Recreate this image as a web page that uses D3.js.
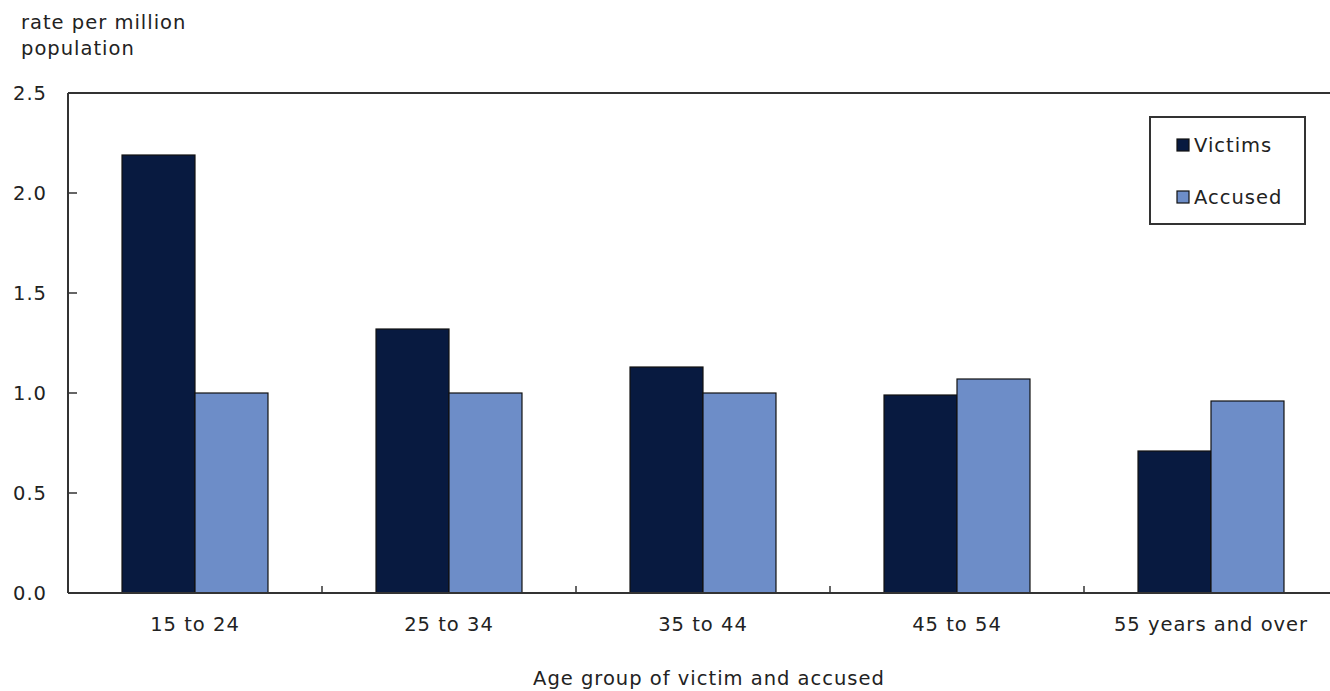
<!DOCTYPE html>
<html><head><meta charset="utf-8">
<script src="https://cdn.jsdelivr.net/npm/d3@7"></script>
<style>
body{margin:0;background:#fff;}
text{font-family:"DejaVu Sans",Verdana,sans-serif;fill:#222;letter-spacing:1px;}
</style></head>
<body><svg id="c" width="1330" height="691"></svg>
<script>
const categories = ["15 to 24","25 to 34","35 to 44","45 to 54","55 years and over"];
const seriesNames = ["Victims","Accused"];
const victims = [2.19,1.32,1.13,0.99,0.71];
const accused = [1.00,1.00,1.00,1.07,0.96];
const yTicks = [0,0.5,1.0,1.5,2.0,2.5];
const colors = ["#081a40","#6d8dc8"];

const svg = d3.select("#c");
const L=68, R=1338, T=93, B=593;
const x0 = d3.scaleBand().domain(categories).range([L,R]).padding(0);
const x1 = d3.scaleBand().domain(seriesNames).range([0,x0.bandwidth()]).paddingInner(0).paddingOuter(0.74);
const y = d3.scaleLinear().domain([0,2.5]).range([B,T]);
const fs = 19.5;

// bars
const data = categories.map((c,i)=>({c, vals:[victims[i],accused[i]]}));
const g = svg.append("g");
data.forEach(d=>{
  d.vals.forEach((v,j)=>{
    g.append("rect")
      .attr("x", x0(d.c)+x1(seriesNames[j]))
      .attr("y", y(v))
      .attr("width", x1.bandwidth())
      .attr("height", y(0)-y(v))
      .attr("fill", colors[j]).attr("stroke","#111").attr("stroke-width",1.2);
  });
});

// frame
svg.append("line").attr("x1",L).attr("x2",R).attr("y1",T).attr("y2",T).attr("stroke","#333").attr("stroke-width",2);
svg.append("line").attr("x1",L).attr("x2",L).attr("y1",T).attr("y2",B).attr("stroke","#333").attr("stroke-width",2);
svg.append("line").attr("x1",L).attr("x2",R).attr("y1",B).attr("y2",B).attr("stroke","#333").attr("stroke-width",2);

// y ticks
yTicks.forEach(t=>{
  if(t>0 && t<2.5) svg.append("line").attr("x1",L).attr("x2",L+9).attr("y1",y(t)).attr("y2",y(t)).attr("stroke","#333").attr("stroke-width",1.5);
  svg.append("text").attr("x",47).attr("y",y(t)).attr("dy","0.36em").attr("text-anchor","end").attr("font-size",fs).text(d3.format(".1f")(t));
});

// x ticks (category boundaries)
categories.forEach((c,i)=>{
  if(i>0) svg.append("line").attr("x1",x0(c)).attr("x2",x0(c)).attr("y1",B).attr("y2",B-7).attr("stroke","#333").attr("stroke-width",1.5);
  svg.append("text").attr("x",x0(c)+x0.bandwidth()/2).attr("y",631).attr("text-anchor","middle").attr("font-size",fs).text(c);
});

// axis titles
svg.append("text").attr("x",21).attr("y",29).attr("font-size",fs).text("rate per million");
svg.append("text").attr("x",21).attr("y",55).attr("font-size",fs).text("population");
svg.append("text").attr("x",(L+R)/2+6).attr("y",685).attr("text-anchor","middle").attr("font-size",fs).text("Age group of victim and accused");

// legend
const lg = svg.append("g");
lg.append("rect").attr("x",1150).attr("y",117).attr("width",155).attr("height",107).attr("fill","#fff").attr("stroke","#333").attr("stroke-width",2);
seriesNames.forEach((s,j)=>{
  const cy = 145 + j*52;
  lg.append("rect").attr("x",1177).attr("y",cy-6).attr("width",12).attr("height",12).attr("fill",colors[j]).attr("stroke","#111").attr("stroke-width",1.2);
  lg.append("text").attr("x",1194).attr("y",cy).attr("dy","0.36em").attr("font-size",fs).text(s);
});
</script></body></html>
